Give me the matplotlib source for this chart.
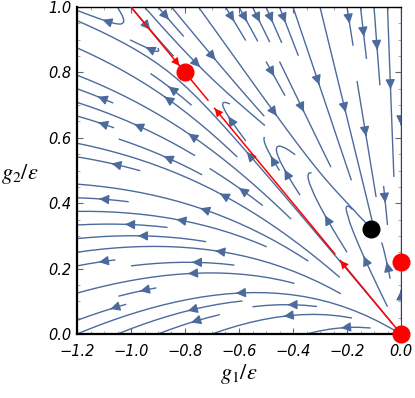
import numpy as np
import matplotlib
matplotlib.use('Agg')
import matplotlib.pyplot as plt

# beta function coefficients (units of epsilon)
A, B = 2.857, 4.107          # dg1 = g1 (1 - A g1 - B g2)
C, D, E = 4.545, 4.57, 1.27  # dg2 = g2 - C g2^2 - D g1 g2 - E g1^2

red_points_g1 = [0.0, 0.0, -0.8]
red_points_g2 = [0.0, 0.22, 0.8]
black_point = (-0.11, 0.32)
# separatrix g2 = -g1, drawn in pieces (g1 ranges) with arrow tips
separatrix_pieces = [(-1.0, -0.82), (-0.8, -0.715), (-0.69, -0.245), (-0.225, 0.0)]
separatrix_arrows = [(-0.87, -0.82), (-0.64, -0.69), (-0.18, -0.225)]

xticks = [-1.2, -1.0, -0.8, -0.6, -0.4, -0.2, 0.0]
yticks = [0.0, 0.2, 0.4, 0.6, 0.8, 1.0]

STREAM = '#4c6b9c'

plt.rcParams['mathtext.fontset'] = 'stix'

fig = plt.figure(figsize=(4.15, 3.98), dpi=100)
ax = fig.add_axes([77 / 415, 64 / 398, 324 / 415, 327 / 398])

g1 = np.linspace(-1.2, 0, 150)
g2 = np.linspace(0, 1, 150)
G1, G2 = np.meshgrid(g1, g2)
U = G1 * (1 - A * G1 - B * G2)
V = G2 - C * G2**2 - D * G1 * G2 - E * G1**2

ax.streamplot(G1, G2, U, V, color=STREAM, linewidth=1.0, density=0.85,
              arrowsize=1.4, arrowstyle='-|>', broken_streamlines=True)

for a, b in separatrix_pieces:
    ax.plot([a, b], [-a, -b], color='red', lw=1.1, zorder=3)
for a, b in separatrix_arrows:
    ax.annotate('', xy=(b, -b), xytext=(a, -a),
                arrowprops=dict(arrowstyle='-|>', color='red', lw=0,
                                mutation_scale=15, shrinkA=0, shrinkB=0))

ax.plot(red_points_g1, red_points_g2, 'o', color='red', ms=12,
        clip_on=False, zorder=5)
ax.plot(*black_point, 'o', color='black', ms=12, clip_on=False, zorder=5)

ax.set_xlim(-1.2, 0)
ax.set_ylim(0, 1)
ax.set_xticks(xticks)
ax.set_yticks(yticks)
ax.set_xticklabels([('\u2212%.1f' % -t) if t < 0 else '0.0' for t in xticks])
ax.set_yticklabels(['%.1f' % t for t in yticks])
ax.tick_params(direction='in', length=4, width=0.8, labelsize=10.5,
               top=True, right=True, color='#666666')
ax.tick_params(axis='x', pad=7)
ax.tick_params(axis='y', pad=4)
for lab in ax.get_xticklabels() + ax.get_yticklabels():
    lab.set_fontstyle('italic')
ax.minorticks_on()
ax.tick_params(which='minor', direction='in', length=2, color='#999999',
               top=True, right=True)
ax.spines['left'].set_linewidth(1.6)
ax.spines['bottom'].set_linewidth(1.6)
ax.spines['top'].set_linewidth(1.0)
ax.spines['right'].set_color('#444444')

ax.set_xlabel(r'$g_1/\varepsilon$', fontsize=16, labelpad=2)
ax.set_ylabel(r'$g_2/\varepsilon$', fontsize=16, rotation=0, ha='left', va='center')
ax.yaxis.set_label_coords(-76 / 324, 0.49)

fig.savefig('out.png', dpi=100)
